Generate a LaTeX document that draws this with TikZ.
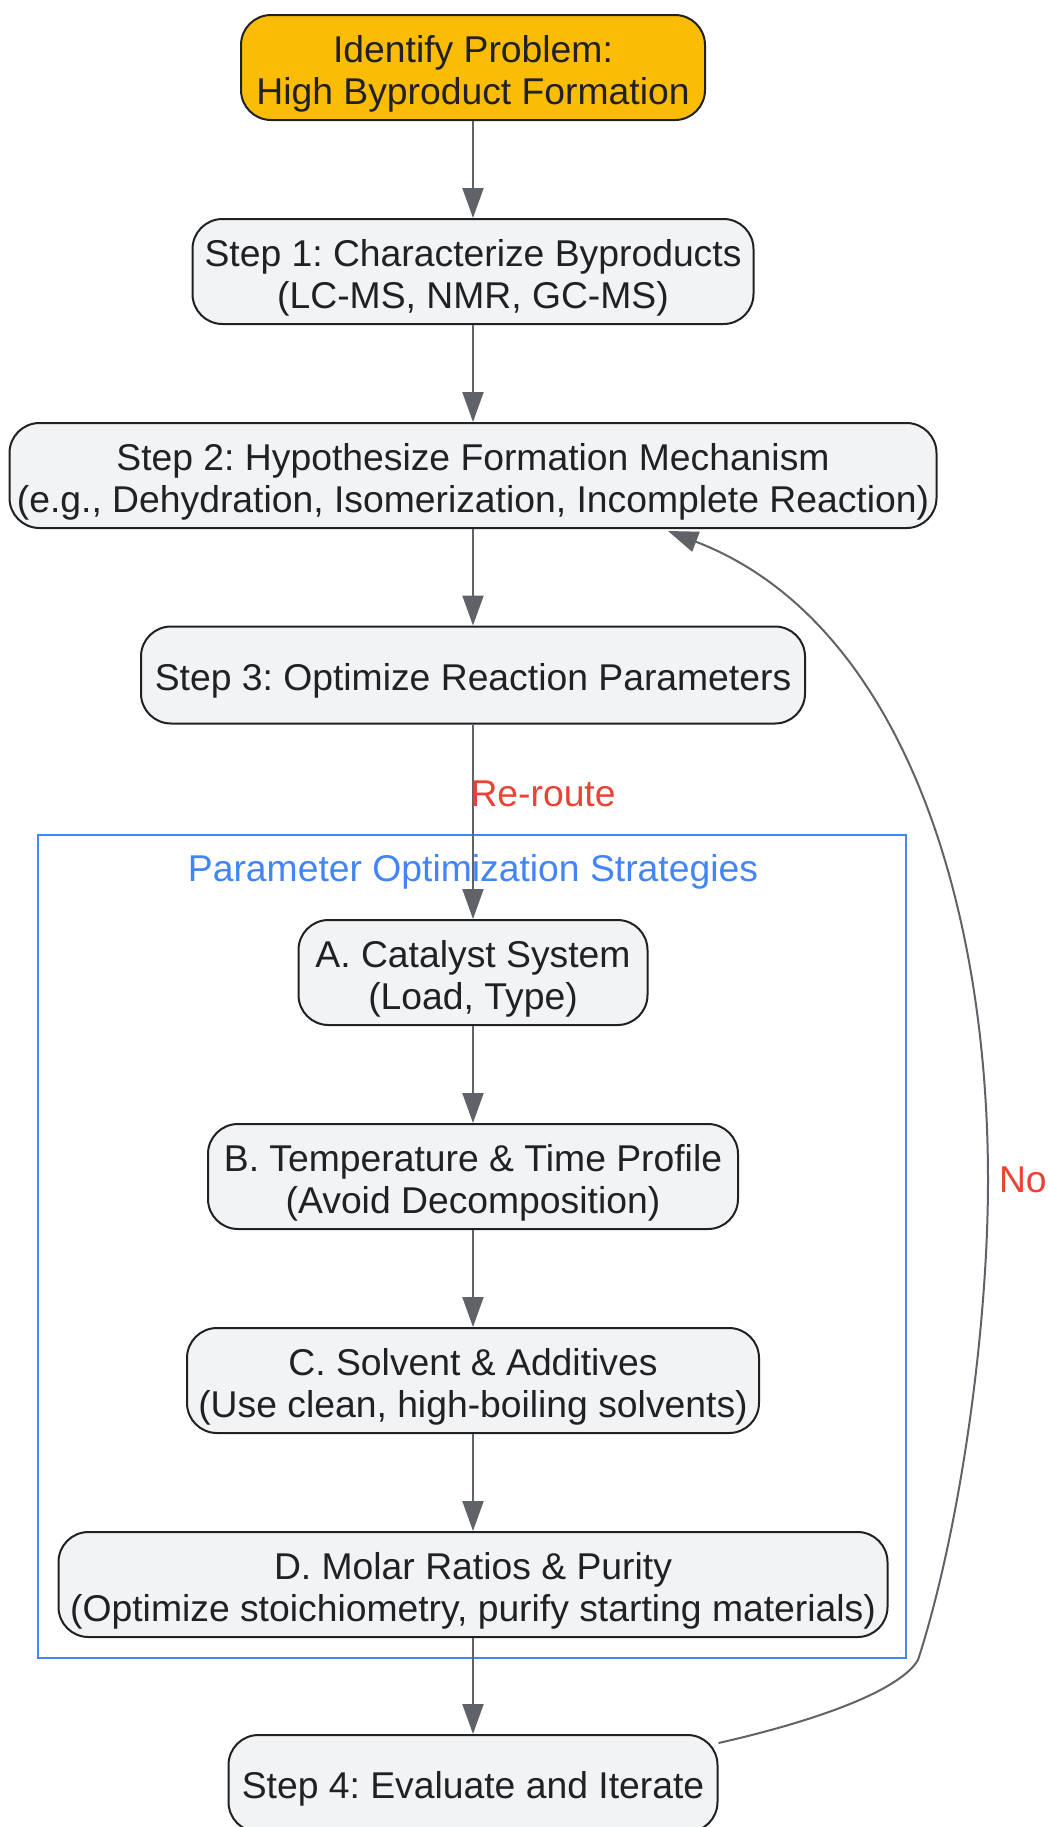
\documentclass[tikz,border=0pt]{standalone}
\usepackage{fontspec}
\setmainfont{Liberation Sans}
\usetikzlibrary{positioning}
\usetikzlibrary{arrows.meta}
\usetikzlibrary{calc}

\definecolor{stepfill}{HTML}{F1F3F4}
\definecolor{stepline}{HTML}{202124}
\definecolor{startfill}{HTML}{FBBC05}
\definecolor{edgegray}{HTML}{5F6368}
\definecolor{groupblue}{HTML}{4285F4}
\definecolor{labelred}{HTML}{EA4335}

\begin{document}
\frenchspacing
\begin{tikzpicture}[x=0.5pt, y=-0.5pt,
    every node/.style={font=\fontsize{18.65pt}{21pt}\selectfont, text=stepline},
    stepbox/.style={draw=stepline, fill=stepfill, line width=1pt, rounded corners=15pt,
        align=center, inner sep=2pt, minimum height=52.5pt, text height=41pt, text depth=3.9pt},
    linebox/.style={stepbox, minimum height=48.5pt, text height=18.9pt},
    startbox/.style={stepbox, fill=startfill},
    flow/.style={draw=edgegray, line width=1pt, -{Triangle[length=15pt,width=10.5pt]}},
    edgelabel/.style={text=labelred, inner sep=0pt},
    groupbox/.style={draw=groupblue, line width=1pt, inner sep=0pt}]
        \clip (0,0) rectangle (1048,1827);

        \node[startbox, minimum width=232pt] (problem) at (473,67.5) {Identify Problem:\\High Byproduct Formation};
        \node[stepbox, minimum width=280.5pt] (characterize) at (473,271.5) {Step 1: Characterize Byproducts\\(LC-MS, NMR, GC-MS)};
        \node[stepbox, minimum width=463.5pt] (mechanism) at (473,475.5) {Step 2: Hypothesize Formation Mechanism\\(e.g., Dehydration, Isomerization, Incomplete Reaction)};
        \node[linebox, minimum width=332pt] (optimize) at (473,675) {Step 3: Optimize Reaction Parameters};

        \node[groupbox, minimum width=434pt, minimum height=411.5pt] (strategies) at (472,1246.5) {};
        \node[text=groupblue, inner sep=0pt] (strategiestitle) at ($(strategies.north)+(1,38)$) {Parameter Optimization Strategies};

        \node[stepbox, minimum width=174.5pt] (catalyst) at (473,972.5) {A. Catalyst System\\(Load, Type)};
        \node[stepbox, minimum width=265pt] (temperature) at (473,1176.5) {B. Temperature \& Time Profile\\(Avoid Decomposition)};
        \node[stepbox, minimum width=286pt] (solvent) at (473,1380.5) {C. Solvent \& Additives\\(Use clean, high-boiling solvents)};
        \node[stepbox, minimum width=414.5pt] (ratios) at (473,1584.5) {D. Molar Ratios \& Purity\\(Optimize stoichiometry, purify starting materials)};

        \node[linebox, minimum width=244.5pt] (evaluate) at (473,1783.5) {Step 4: Evaluate and Iterate};

        \draw[flow] (problem) -- (characterize);
        \draw[flow] (characterize) -- (mechanism);
        \draw[flow] (mechanism) -- (optimize);
        \draw[flow] (optimize) -- (catalyst) node[edgelabel, anchor=west, pos=0.355, xshift=-1.75pt] {Re-route};
        \draw[flow] (catalyst) -- (temperature);
        \draw[flow] (temperature) -- (solvent);
        \draw[flow] (solvent) -- (ratios);
        \draw[flow] (ratios) -- (evaluate);
        \draw[flow] ($(evaluate.north east)+(0,9)$) .. controls (820,1720) and (900,1690) .. (918,1660)
            .. controls (960,1530) and (988,1330) .. (988,1180) node[edgelabel, anchor=west, xshift=5pt] {No}
            .. controls (988,900) and (900,620) .. ($(mechanism.south)+(195,2)$);

    \end{tikzpicture}
\end{document}
